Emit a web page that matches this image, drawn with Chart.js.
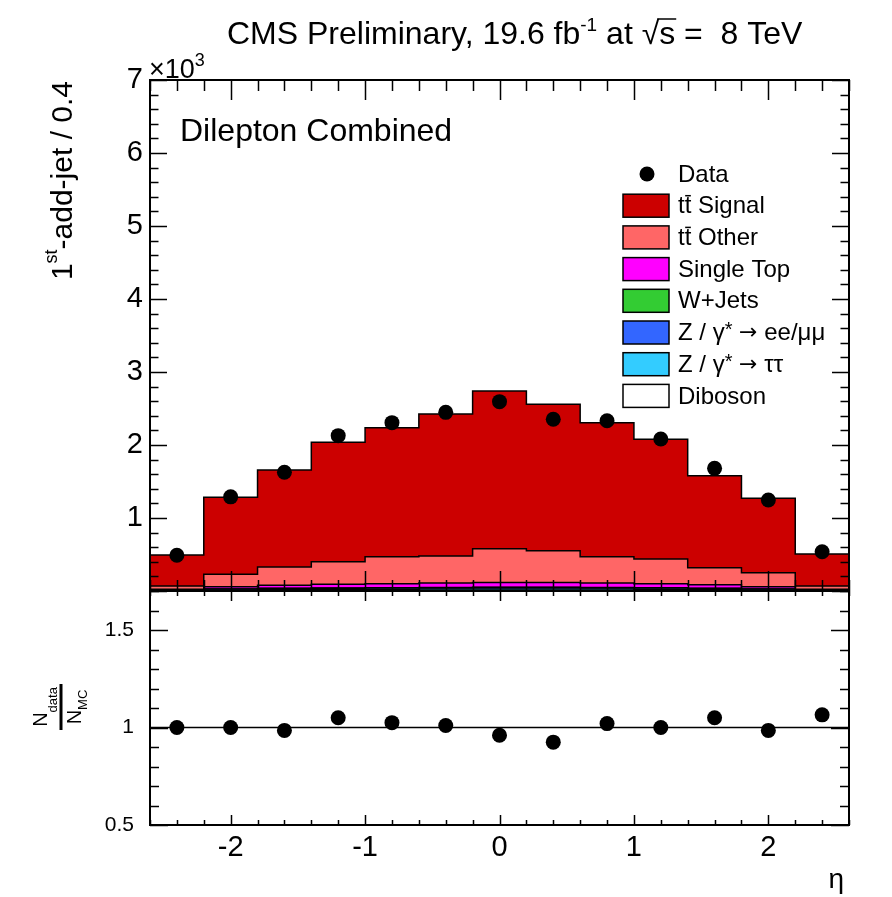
<!DOCTYPE html>
<html>
<head>
<meta charset="utf-8">
<script src="https://cdn.jsdelivr.net/npm/chart.js@4.4.1/dist/chart.umd.min.js"></script>
<style>
  html, body { margin: 0; padding: 0; background: #fff; }
  #wrap { position: relative; width: 892px; height: 897px; }
  #wrap canvas { position: absolute; left: 0; top: 0; }
</style>
</head>
<body>
<div id="wrap">
  <canvas id="mainChart" width="892" height="897"></canvas>
  <canvas id="ratioChart" width="892" height="897"></canvas>
</div>
<script>
// bins in eta, width 0.4
const binEdges = [-2.6, -2.2, -1.8, -1.4, -1.0, -0.6, -0.2, 0.2, 0.6, 1.0, 1.4, 1.8, 2.2, 2.6];
const binCenters = [-2.4, -2.0, -1.6, -1.2, -0.8, -0.4, 0.0, 0.4, 0.8, 1.2, 1.6, 2.0, 2.4];

// MC contributions, units of 10^3 events (bottom of stack first)
const diboson   = [0.002, 0.004, 0.005, 0.006, 0.006, 0.007, 0.007, 0.007, 0.007, 0.006, 0.005, 0.004, 0.002];
const zTauTau   = [0.004, 0.010, 0.014, 0.016, 0.018, 0.020, 0.021, 0.021, 0.020, 0.018, 0.014, 0.010, 0.004];
const zEeMuMu   = [0.006, 0.012, 0.015, 0.017, 0.018, 0.019, 0.020, 0.020, 0.019, 0.017, 0.015, 0.012, 0.006];
const wJets     = [0.001, 0.002, 0.002, 0.003, 0.003, 0.003, 0.003, 0.003, 0.003, 0.003, 0.002, 0.002, 0.001];
const singleTop = [0.012, 0.030, 0.042, 0.050, 0.056, 0.060, 0.064, 0.064, 0.060, 0.056, 0.050, 0.030, 0.012];
const ttOther   = [0.045, 0.172, 0.252, 0.308, 0.369, 0.371, 0.465, 0.435, 0.361, 0.340, 0.234, 0.192, 0.045];
const ttSignal  = [0.423, 1.053, 1.328, 1.637, 1.767, 1.945, 2.160, 2.007, 1.836, 1.638, 1.260, 1.020, 0.437];

// data
const dataCounts = [0.490, 1.290, 1.626, 2.128, 2.306, 2.447, 2.594, 2.352, 2.333, 2.082, 1.680, 1.247, 0.538];
const ratioValues = [1.00, 1.00, 0.985, 1.05, 1.025, 1.01, 0.96, 0.925, 1.02, 1.00, 1.05, 0.985, 1.065];

// tick labels
const xTickLabels = [-2, -1, 0, 1, 2];
const yTickLabels = [1, 2, 3, 4, 5, 6, 7];
const ratioTickLabels = [0.5, 1, 1.5];

const FONT = '"Liberation Sans", Arial, Helvetica, sans-serif';
const SYMFONT = '"DejaVu Sans", sans-serif';

// histogram as step line: one point per left edge, last value repeated at the right edge
function steps(vals) {
    return binEdges.map((e, i) => ({ x: e, y: vals[Math.min(i, vals.length - 1)] }));
}

function points(vals) {
    return binCenters.map((c, i) => ({ x: c, y: vals[i] }));
}

function histSet(label, vals, color, first) {
    return {
        label: label,
        data: steps(vals),
        stepped: true,
        backgroundColor: color,
        borderColor: '#000',
        borderWidth: 1.5,
        pointRadius: 0,
        fill: first ? 'origin' : '-1',
        stack: 'mc',
    };
}

// ROOT style frame, ticks inside on all four sides
const axisFrame = {
    id: 'axisFrame',
    afterDatasetsDraw(chart, args, o) {
        const { ctx, chartArea: a } = chart;
        const xs = chart.scales.x, ys = chart.scales.y;
        ctx.save();
        ctx.strokeStyle = '#000';
        ctx.lineWidth = 1.5;
        ctx.beginPath();
        let n = Math.round((xs.max - xs.min) / o.xMinor);
        for (let i = 0; i <= n; i++) {
            const v = xs.min + i * o.xMinor;
            const major = Math.abs(v / o.xMajor - Math.round(v / o.xMajor)) < 1e-6;
            const len = major ? o.xLen[0] : o.xLen[1];
            const px = Math.round(xs.getPixelForValue(v)) + 0.5;
            ctx.moveTo(px, a.bottom); ctx.lineTo(px, a.bottom - len);
            ctx.moveTo(px, a.top); ctx.lineTo(px, a.top + len);
        }
        n = Math.round((ys.max - ys.min) / o.yMinor);
        for (let i = 0; i <= n; i++) {
            const v = ys.min + i * o.yMinor;
            const major = Math.abs(v / o.yMajor - Math.round(v / o.yMajor)) < 1e-6;
            const len = major ? o.yLen[0] : o.yLen[1];
            const py = Math.round(ys.getPixelForValue(v)) + 0.5;
            ctx.moveTo(a.left, py); ctx.lineTo(a.left + len, py);
            ctx.moveTo(a.right, py); ctx.lineTo(a.right - len, py);
        }
        ctx.stroke();
        ctx.lineWidth = 2;
        ctx.strokeRect(a.left, a.top, a.right - a.left, a.bottom - a.top);
        ctx.restore();
    }
};

// draw text pieces one after another: [text, size, dy, family]
function drawPieces(ctx, x, y, pieces) {
    pieces.forEach(p => {
        ctx.font = p[1] + 'px ' + (p[3] || FONT);
        ctx.fillText(p[0], x, y + (p[2] || 0));
        x += ctx.measureText(p[0]).width;
    });
    return x;
}

function piecesWidth(ctx, pieces) {
    let w = 0;
    pieces.forEach(p => {
        ctx.font = p[1] + 'px ' + (p[3] || FONT);
        w += ctx.measureText(p[0]).width;
    });
    return w;
}

const legendRows = [
    { label: [['Data', 24]], marker: true },
    { label: [['Signal', 24]], tt: true, color: '#cc0000' },
    { label: [['Other', 24]], tt: true, color: '#ff6666' },
    { label: [['Single Top', 24]], color: '#ff00ff' },
    { label: [['W+Jets', 24]], color: '#33cc33' },
    { label: [['Z / \u03b3', 24], ['*', 20, -3], [' ', 24], ['\u2192', 22, 0, SYMFONT], [' ee/\u03bc\u03bc', 24]], color: '#3366ff' },
    { label: [['Z / \u03b3', 24], ['*', 20, -3], [' ', 24], ['\u2192', 22, 0, SYMFONT], [' \u03c4\u03c4', 24]], color: '#33ccff' },
    { label: [['Diboson', 24]], color: '#ffffff' },
];

const mainTexts = {
    id: 'mainTexts',
    afterDraw(chart) {
        const ctx = chart.ctx;
        ctx.save();
        ctx.fillStyle = '#000';
        ctx.strokeStyle = '#000';
        ctx.textBaseline = 'alphabetic';
        ctx.textAlign = 'left';

        // title
        let x = drawPieces(ctx, 227, 44, [['CMS Preliminary, 19.6 fb', 32], ['-1', 19, -13], [' at ', 32]]);
        x = drawPieces(ctx, x, 44, [['\u221a', 32]]);
        const sx = x;
        x = drawPieces(ctx, x, 44, [['s', 32]]);
        ctx.lineWidth = 1.5;
        ctx.beginPath();
        ctx.moveTo(sx - 2, 44 - 25); ctx.lineTo(x + 1, 44 - 25);
        ctx.stroke();
        drawPieces(ctx, x, 44, [[' =  8 TeV', 32]]);

        // exponent of the y axis
        drawPieces(ctx, 149, 78, [['\u00d710', 27], ['3', 18, -12]]);

        // channel label
        drawPieces(ctx, 180, 141, [['Dilepton Combined', 32]]);

        // y axis title, rotated
        const yTitle = [['1', 30], ['st', 18, -12], ['-add-jet / 0.4', 30]];
        ctx.save();
        ctx.translate(64, 81);
        ctx.rotate(-Math.PI / 2);
        ctx.textBaseline = 'middle';
        drawPieces(ctx, -piecesWidth(ctx, yTitle), 0, yTitle);
        ctx.restore();

        // legend
        ctx.textBaseline = 'middle';
        legendRows.forEach((r, i) => {
            const cy = 174 + i * 31.7;
            if (r.marker) {
                ctx.beginPath();
                ctx.arc(647, cy, 7.5, 0, Math.PI * 2);
                ctx.fill();
            } else {
                ctx.fillStyle = r.color;
                ctx.fillRect(623, cy - 11.5, 46, 23);
                ctx.lineWidth = 1.5;
                ctx.strokeRect(623, cy - 11.5, 46, 23);
                ctx.fillStyle = '#000';
            }
            let tx = 678;
            if (r.tt) {
                ctx.font = '24px ' + FONT;
                const w1 = ctx.measureText('t').width;
                ctx.fillText('tt', tx, cy + 1);
                ctx.lineWidth = 1.5;
                ctx.beginPath();
                ctx.moveTo(tx + w1 + 0.5, cy - 10); ctx.lineTo(tx + 2 * w1 - 0.5, cy - 10);
                ctx.stroke();
                tx += ctx.measureText('tt ').width;
            }
            drawPieces(ctx, tx, cy + 1, r.label);
        });
        ctx.restore();
    }
};

const ratioTexts = {
    id: 'ratioTexts',
    beforeDatasetsDraw(chart) {
        const { ctx, chartArea: a } = chart;
        const py = chart.scales.y.getPixelForValue(1);
        ctx.save();
        ctx.strokeStyle = '#000';
        ctx.lineWidth = 1.5;
        ctx.beginPath();
        ctx.moveTo(a.left, py); ctx.lineTo(a.right, py);
        ctx.stroke();
        ctx.restore();
    },
    afterDraw(chart) {
        const ctx = chart.ctx;
        ctx.save();
        ctx.fillStyle = '#000';
        ctx.strokeStyle = '#000';

        // N_data / N_MC, rotated
        ctx.translate(60, 707);
        ctx.rotate(-Math.PI / 2);
        ctx.textBaseline = 'alphabetic';
        const num = [['N', 20], ['data', 13, 10]];
        const den = [['N', 20], ['MC', 13, 6]];
        drawPieces(ctx, -piecesWidth(ctx, num) / 2, -13, num);
        drawPieces(ctx, -piecesWidth(ctx, den) / 2, 21, den);
        ctx.lineWidth = 3;
        ctx.beginPath();
        ctx.moveTo(-23, 1); ctx.lineTo(23, 1);
        ctx.stroke();
        ctx.setTransform(1, 0, 0, 1, 0, 0);

        // x axis title
        ctx.textAlign = 'right';
        drawPieces(ctx, 844, 888, [['\u03b7', 28]]);
        ctx.restore();
    }
};

const mainChart = new Chart(document.getElementById('mainChart'), {
    type: 'line',
    data: {
        datasets: [
            histSet('Diboson', diboson, '#ffffff', true),
            histSet('Z/gamma* -> tautau', zTauTau, '#33ccff'),
            histSet('Z/gamma* -> ee/mumu', zEeMuMu, '#3366ff'),
            histSet('W+Jets', wJets, '#33cc33'),
            histSet('Single Top', singleTop, '#ff00ff'),
            histSet('tt Other', ttOther, '#ff6666'),
            histSet('tt Signal', ttSignal, '#cc0000'),
            {
                label: 'Data',
                data: points(dataCounts),
                showLine: false,
                pointRadius: 7.5,
                pointBackgroundColor: '#000',
                pointBorderColor: '#000',
                pointBorderWidth: 0,
                stack: 'data',
                order: -1,
            },
        ]
    },
    options: {
        responsive: false,
        animation: false,
        events: [],
        layout: { padding: { left: 0, right: 43, top: 80, bottom: 306 } },
        plugins: {
            legend: { display: false },
            tooltip: { enabled: false },
            axisFrame: { xMajor: 1, xMinor: 0.2, xLen: [20, 11], yMajor: 1, yMinor: 0.2, yLen: [17, 8.5] },
        },
        scales: {
            x: { type: 'linear', min: -2.6, max: 2.6, display: false },
            y: {
                type: 'linear', min: 0, max: 7, stacked: true,
                afterFit: s => { s.width = 150; },
                afterBuildTicks: s => { s.ticks = yTickLabels.map(v => ({ value: v })); },
                grid: { display: false, drawTicks: false },
                border: { display: false },
                ticks: {
                    color: '#000', padding: 7,
                    font: { family: FONT, size: 29 },
                    callback: v => String(v),
                },
            },
        },
    },
    plugins: [axisFrame, mainTexts],
});

const ratioChart = new Chart(document.getElementById('ratioChart'), {
    type: 'line',
    data: {
        datasets: [{
            label: 'Data / MC',
            data: points(ratioValues),
            showLine: false,
            pointRadius: 7.5,
            pointBackgroundColor: '#000',
            pointBorderColor: '#000',
            pointBorderWidth: 0,
        }]
    },
    options: {
        responsive: false,
        animation: false,
        events: [],
        layout: { padding: { left: 0, right: 43, top: 591, bottom: 0 } },
        plugins: {
            legend: { display: false },
            tooltip: { enabled: false },
            axisFrame: { xMajor: 1, xMinor: 0.2, xLen: [10, 5], yMajor: 0.5, yMinor: 0.1, yLen: [18, 9] },
        },
        scales: {
            x: {
                type: 'linear', min: -2.6, max: 2.6,
                afterFit: s => { s.height = 72; },
                afterBuildTicks: s => { s.ticks = xTickLabels.map(v => ({ value: v })); },
                grid: { display: false, drawTicks: false },
                border: { display: false },
                ticks: {
                    color: '#000', padding: 6, maxRotation: 0,
                    font: { family: FONT, size: 29 },
                    callback: v => String(v),
                },
            },
            y: {
                type: 'linear', min: 0.5, max: 1.7,
                afterFit: s => { s.width = 150; },
                afterBuildTicks: s => { s.ticks = ratioTickLabels.map(v => ({ value: v })); },
                grid: { display: false, drawTicks: false },
                border: { display: false },
                ticks: {
                    color: '#000', padding: 16,
                    font: { family: FONT, size: 21 },
                    callback: v => String(v),
                },
            },
        },
    },
    plugins: [axisFrame, ratioTexts],
});
</script>
</body>
</html>
